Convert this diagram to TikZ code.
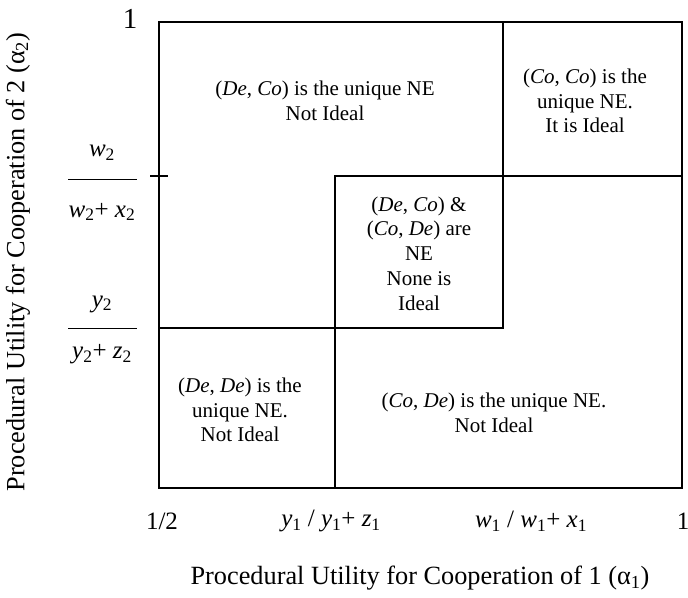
\documentclass[tikz,border=0pt]{standalone}
\usepackage{fontspec}
\setmainfont{Liberation Serif}
\usetikzlibrary{positioning}
\newcommand{\lowidx}[1]{\textsubscript{#1}}
\newcommand{\pl}[1]{\textit{#1}}

\begin{document}
\begin{tikzpicture}[x=1pt,y=-1pt,
      frame/.style={line width=1.1pt,line cap=rect},
      cell/.style={align=center,inner sep=0pt,font=\fontsize{21}{24.8}\selectfont},
      ticklab/.style={inner sep=0pt,font=\fontsize{25}{30}\selectfont},
      axislab/.style={inner sep=0pt,font=\fontsize{26.3}{30}\selectfont}
    ]
    \useasboundingbox (0,0) rectangle (688,597);

    % regions of the unit square
    \draw[frame] (159,22) rectangle (682,488);
    \draw[frame] (503,22) -- (503,328) -- (159,328);
    \draw[frame] (335,488) -- (335,176) -- (682,176);
    \draw[frame] (151,176) -- (167,176);

    \node[cell] (dcCell) at (325,100.5)
      {(\pl{De}, \pl{Co}) is the unique NE\\Not Ideal};
    \node[cell] (ccCell) at (585,101)
      {(\pl{Co}, \pl{Co}) is the\\unique NE.\\It is Ideal};
    \node[cell] (mixCell) at (419,253.5)
      {(\pl{De}, \pl{Co}) \&\\(\pl{Co}, \pl{De}) are\\NE\\None is\\Ideal};
    \node[cell] (ddCell) at (240,410)
      {(\pl{De}, \pl{De}) is the\\unique NE.\\Not Ideal};
    \node[cell] (cdCell) at (494,412.5)
      {(\pl{Co}, \pl{De}) is the unique NE.\\Not Ideal};

    % vertical axis
    \node[ticklab,font=\fontsize{29}{32}\selectfont] (topOne) at (130,19) {1};
    \node[ticklab] (wNum) at (102,153) {\pl{w}\lowidx{2}};
    \node[ticklab] (wDen) at (102,212) {\pl{w}\lowidx{2}+ \pl{x}\lowidx{2}};
    \draw[line width=0.9pt] (68,179) -- (137,179);
    \node[ticklab] (yNum) at (102,304) {\pl{y}\lowidx{2}};
    \node[ticklab] (yDen) at (102,354) {\pl{y}\lowidx{2}+ \pl{z}\lowidx{2}};
    \draw[line width=0.9pt] (68,328) -- (137,328);
    \node[axislab,rotate=90] (yTitle) at (18,262)
      {Procedural Utility for Cooperation of 2 (α\lowidx{2})};

    % horizontal axis
    \node[ticklab] (half) at (162,521) {1/2};
    \node[ticklab] (yRatio) at (331,521)
      {\pl{y}\lowidx{1} / \pl{y}\lowidx{1}+ \pl{z}\lowidx{1}};
    \node[ticklab] (wRatio) at (531,521)
      {\pl{w}\lowidx{1} / \pl{w}\lowidx{1}+ \pl{x}\lowidx{1}};
    \node[ticklab] (rightOne) at (683,521) {1};
    \node[axislab] (xTitle) at (420,578)
      {Procedural Utility for Cooperation of 1 (α\lowidx{1})};
  \end{tikzpicture}
\end{document}
